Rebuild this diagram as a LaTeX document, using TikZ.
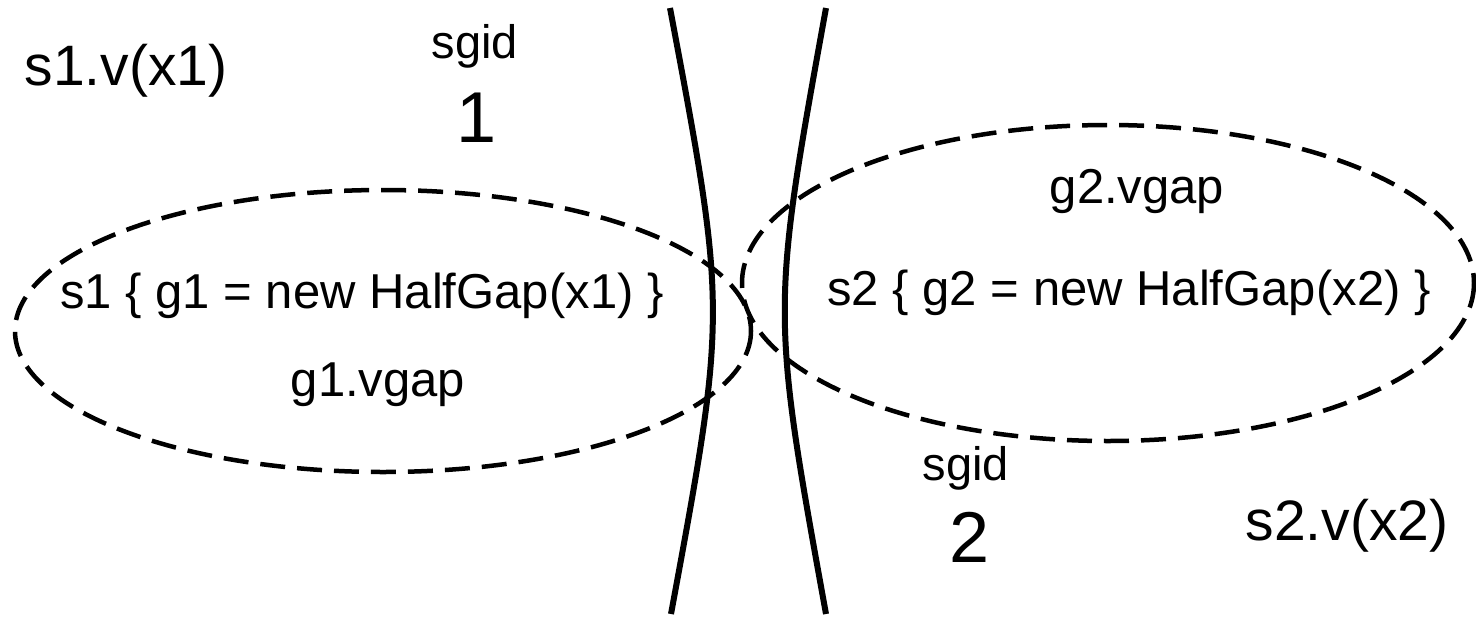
\documentclass[tikz,border=0pt]{standalone}
\usepackage{fontspec}
\setmainfont{Liberation Sans}
\usepackage{tikz}
\usetikzlibrary{positioning}

\begin{document}
\begin{tikzpicture}[
  x=1pt, y=-1pt,
  lbl/.style={inner sep=0pt, anchor=base, font=\fontsize{57}{60}\selectfont},
  code/.style={inner sep=0pt, anchor=base, font=\fontsize{49}{56}\selectfont},
  tag/.style={inner sep=0pt, anchor=base, font=\fontsize{47}{50}\selectfont},
  num/.style={inner sep=0pt, anchor=base, font=\fontsize{72}{76}\selectfont},
  wall/.style={line width=6pt, draw=black},
  region/.style={line width=4.5pt, draw=black, dash pattern=on 25pt off 12pt}
]
\useasboundingbox (0,0) rectangle (1476,619);
% the two regions
\draw[region] (383,331) ellipse [x radius=368, y radius=141];
\draw[region] (1108,283) ellipse [x radius=366, y radius=158];
% the walls between them
\draw[wall] (670,8) .. controls (727,311) .. (671,614);
\draw[wall] (826,8) .. controls (771,311) .. (826,614);
% texts
\node[lbl] (v1) at (126,85) {s1.v(x1)};
\node[tag] (sgidA) at (475,58) {sgid};
\node[num] (idA) at (477,142) {1};
\node[code] (s1) at (362,308) {s1 \{ g1 = new HalfGap(x1) \}};
\node[code] (g1) at (378,396) {g1.vgap};
\node[code] (g2) at (1137,203) {g2.vgap};
\node[code] (s2) at (1129,305) {s2 \{ g2 = new HalfGap(x2) \}};
\node[tag] (sgidB) at (966,480) {sgid};
\node[num] (idB) at (970,562) {2};
\node[lbl] (v2) at (1347,540) {s2.v(x2)};
\end{tikzpicture}
\end{document}
